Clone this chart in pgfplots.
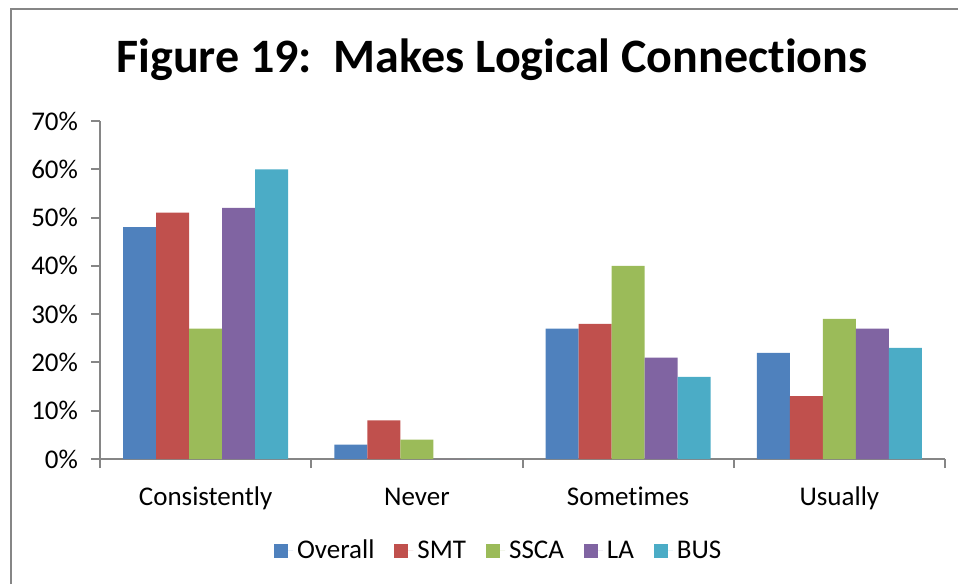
\documentclass[border=0pt]{standalone}
\usepackage{fontspec}
\setmainfont{Carlito}[Ligatures=NoCommon]
\usepackage{pgfplots}
\pgfplotsset{compat=1.18}

\definecolor{cOverall}{HTML}{4F81BD}
\definecolor{cSMT}{HTML}{C0504D}
\definecolor{cSSCA}{HTML}{9BBB59}
\definecolor{cLA}{HTML}{8064A2}
\definecolor{cBUS}{HTML}{4BACC6}
\definecolor{axisgray}{HTML}{868686}

\pgfplotsset{sqlegend/.style={legend image code/.code={%
    \fill[##1] (0pt,-3.5pt) rectangle (7pt,3.5pt);
    \path (0pt,0pt) -- (9.5pt,0pt);}}}

\begin{document}
\begin{tikzpicture}
\useasboundingbox (0,0) rectangle (479pt,292pt);
\draw[axisgray, line width=0.8pt] (5.5pt,0) -- (5.5pt,287.5pt) -- (479pt,287.5pt);
\node[anchor=base, font=\fontsize{24}{28}\selectfont\bfseries] at (246pt,255.5pt) {Figure 19:\ \ Makes Logical Connections};
\begin{axis}[
    at={(50pt,62.5pt)}, anchor=south west,
    scale only axis, width=422.5pt, height=169pt,
    ybar=0pt, bar width=16.5pt,
    xmin=-0.5, xmax=3.5, ymin=0, ymax=70,
    xtick={0,1,2,3},
    xticklabels={Consistently,Never,Sometimes,Usually},
    minor xtick={-0.5,0.5,1.5,2.5,3.5},
    ytick={0,10,...,70},
    yticklabel={\pgfmathprintnumber{\tick}\%},
    /pgf/number format/assume math mode=true,
    axis x line*=bottom, axis y line*=left,
    axis line style={axisgray, line width=1pt},
    tick align=outside,
    major tick length=4.5pt, minor tick length=4.5pt,
    tick style={axisgray, line width=1pt},
    major x tick style={draw=none},
    ticklabel style={font=\fontsize{13.5}{16}\selectfont},
    xticklabel style={text height=9.5pt, text depth=3pt, yshift=-5.5pt},
    yticklabel style={xshift=-3pt},
    legend columns=-1,
    legend style={at={(0.473,-0.272)}, anchor=center, draw=none, fill=none,
        font=\fontsize{13.5}{16}\selectfont,
        /tikz/every even column/.append style={column sep=8pt}},
]
\addplot[fill=cOverall, draw=none, sqlegend] coordinates {(0,48) (1,3) (2,27) (3,22)};
\addplot[fill=cSMT, draw=none, sqlegend] coordinates {(0,51) (1,8) (2,28) (3,13)};
\addplot[fill=cSSCA, draw=none, sqlegend] coordinates {(0,27) (1,4) (2,40) (3,29)};
\addplot[fill=cLA, draw=none, sqlegend] coordinates {(0,52) (1,0) (2,21) (3,27)};
\addplot[fill=cBUS, draw=none, sqlegend] coordinates {(0,60) (1,0) (2,17) (3,23)};
\legend{Overall,SMT,SSCA,LA,BUS}
\end{axis}
\end{tikzpicture}
\end{document}
